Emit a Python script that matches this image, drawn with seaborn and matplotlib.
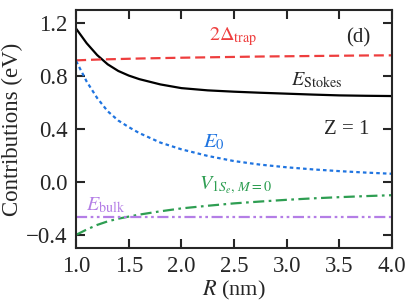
import matplotlib
matplotlib.use("Agg")
import matplotlib.pyplot as plt
import seaborn as sns

# data
r_nm = [1.0, 1.1, 1.2, 1.3, 1.4, 1.5, 1.6, 1.8, 2.0, 2.25, 2.5, 2.75,
        3.0, 3.25, 3.5, 3.75, 4.0]
e_stokes = [1.16, 1.05, 0.96, 0.89, 0.84, 0.805, 0.778, 0.738, 0.71, 0.693,
            0.683, 0.675, 0.668, 0.661, 0.655, 0.652, 0.65]
two_delta_trap = [0.92, 0.923, 0.926, 0.928, 0.930, 0.932, 0.934, 0.937, 0.940,
                  0.943, 0.946, 0.949, 0.951, 0.953, 0.955, 0.957, 0.958]
e_zero = [0.915, 0.76, 0.635, 0.535, 0.465, 0.415, 0.37, 0.298, 0.247, 0.197,
          0.158, 0.131, 0.111, 0.095, 0.082, 0.071, 0.062]
v_coul = [-0.40, -0.36, -0.325, -0.298, -0.278, -0.262, -0.247, -0.222, -0.20,
          -0.18, -0.162, -0.148, -0.135, -0.124, -0.115, -0.107, -0.10]
e_bulk = [-0.262] * len(r_nm)

sns.set_style("ticks")
plt.rcParams["font.family"] = ["Liberation Serif", "DejaVu Serif"]
plt.rcParams["mathtext.fontset"] = "stix"

fig = plt.figure(figsize=(4.07, 3.07), dpi=100)
ax = fig.add_axes([0.187, 0.192, 0.776, 0.775])

lw = 1.6
sns.lineplot(x=r_nm, y=e_stokes, color="black", lw=lw, ax=ax)
sns.lineplot(x=r_nm, y=two_delta_trap, color="#ee3e3e", lw=lw,
             linestyle=(0, (4.5, 2.2)), ax=ax)
sns.lineplot(x=r_nm, y=e_zero, color="#1f74e0", lw=lw,
             linestyle=(0, (1.6, 1.4)), ax=ax)
sns.lineplot(x=r_nm, y=v_coul, color="#2e9e52", lw=lw,
             linestyle=(0, (5, 2, 1.2, 2)), ax=ax)
sns.lineplot(x=r_nm, y=e_bulk, color="#b47ee6", lw=lw,
             linestyle=(0, (5, 1.6, 1.2, 1.6, 1.2, 1.6)), ax=ax)

ax.set_xlim(1.0, 4.0)
ax.set_ylim(-0.5, 1.3)
ax.set_xticks([1.0, 1.5, 2.0, 2.5, 3.0, 3.5, 4.0])
ax.set_yticks([-0.4, 0.0, 0.4, 0.8, 1.2])
ax.set_yticklabels(["\u22120.4", "0.0", "0.4", "0.8", "1.2"])
ax.tick_params(direction="in", length=6.5, width=1.5, top=True, right=True,
               labelsize=16.5, pad=6)
for s in ax.spines.values():
    s.set_linewidth(1.5)
    s.set_visible(True)

ax.set_xlabel(r"$R$ (nm)", fontsize=16, labelpad=1)
ax.set_ylabel("Contributions (eV)", fontsize=16.5, labelpad=2)

ax.text(2.49, 1.10, r"$2\Delta_{\rm trap}$", color="#ee3e3e", fontsize=14.5,
        ha="center", va="center")
ax.text(3.68, 1.09, "(d)", fontsize=15, ha="center", va="center")
ax.text(3.28, 0.77, r"$E_{\rm Stokes}$", fontsize=14.5, ha="center",
        va="center")
ax.text(3.57, 0.40, "Z = 1", fontsize=15, ha="center", va="center")
ax.text(2.31, 0.30, r"$E_0$", color="#1f74e0", fontsize=15, ha="center",
        va="center")
ax.text(2.51, -0.02, r"$V_{1S_e,\,M=0}$", color="#2e9e52", fontsize=14.5,
        ha="center", va="center")
ax.text(1.28, -0.18, r"$E_{\rm bulk}$", color="#b47ee6", fontsize=14.5,
        ha="center", va="center")

fig.savefig("out.png", dpi=100)
plt.close(fig)
